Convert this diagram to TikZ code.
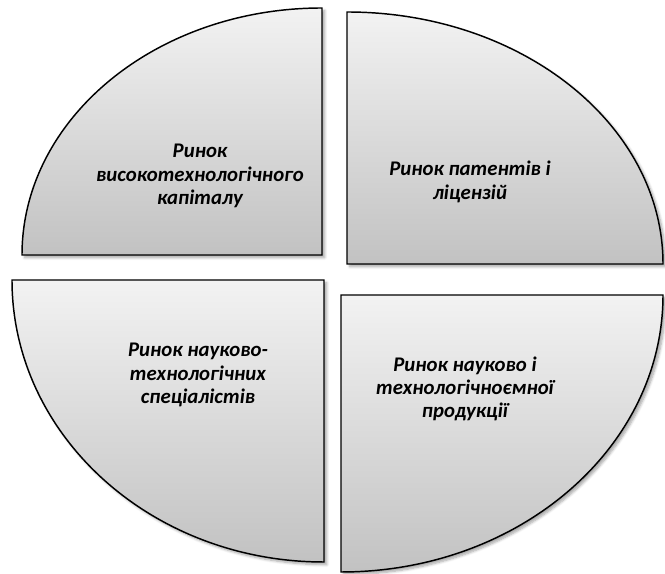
\documentclass[tikz,border=0pt]{standalone}
\usepackage{fontspec}
\setmainfont{Carlito}
\usepackage{tikz}
\usetikzlibrary{shadows.blur}
\tikzset{
  sector/.style={line width=1.1pt, draw=black, top color=black!5, bottom color=black!24,
    blur shadow={shadow xshift=2pt, shadow yshift=-2pt, shadow blur steps=6, shadow opacity=35}},
  lbl/.style={font=\fontsize{15.6}{17.5}\selectfont\bfseries\itshape, align=center}
}

\begin{document}
\begin{tikzpicture}[x=0.75pt, y=0.75pt]
		%%%%% START %%%%%
		\useasboundingbox (0, 0) rectangle (665, 574);
		
		\draw[sector] (322, 319) -- (22, 319) arc (180:90:300 and 247) -- cycle;
		\draw[sector] (347, 310) -- (347, 562) arc (90:0:316 and 252) -- cycle;
		
		\draw[sector] (324, 294) -- (12, 294) arc (180:270:312 and 282) -- cycle;
		\draw[sector] (341, 279) -- (663, 279) arc (0:-90:322 and 277) -- cycle;
		
		\node[lbl] (capital) at (200, 398) {Ринок\\високотехнологічного\\капіталу};
		\node[lbl] (patents) at (470, 392) {Ринок патентів і\\ліцензій};
		\node[lbl] (experts) at (198, 199) {Ринок науково-\\технологічних\\спеціалістів};
		\node[lbl] (products) at (465, 185) {Ринок науково і\\технологічноємної\\продукції};
		
		%%%%% END %%%%%
	\end{tikzpicture}
\end{document}
